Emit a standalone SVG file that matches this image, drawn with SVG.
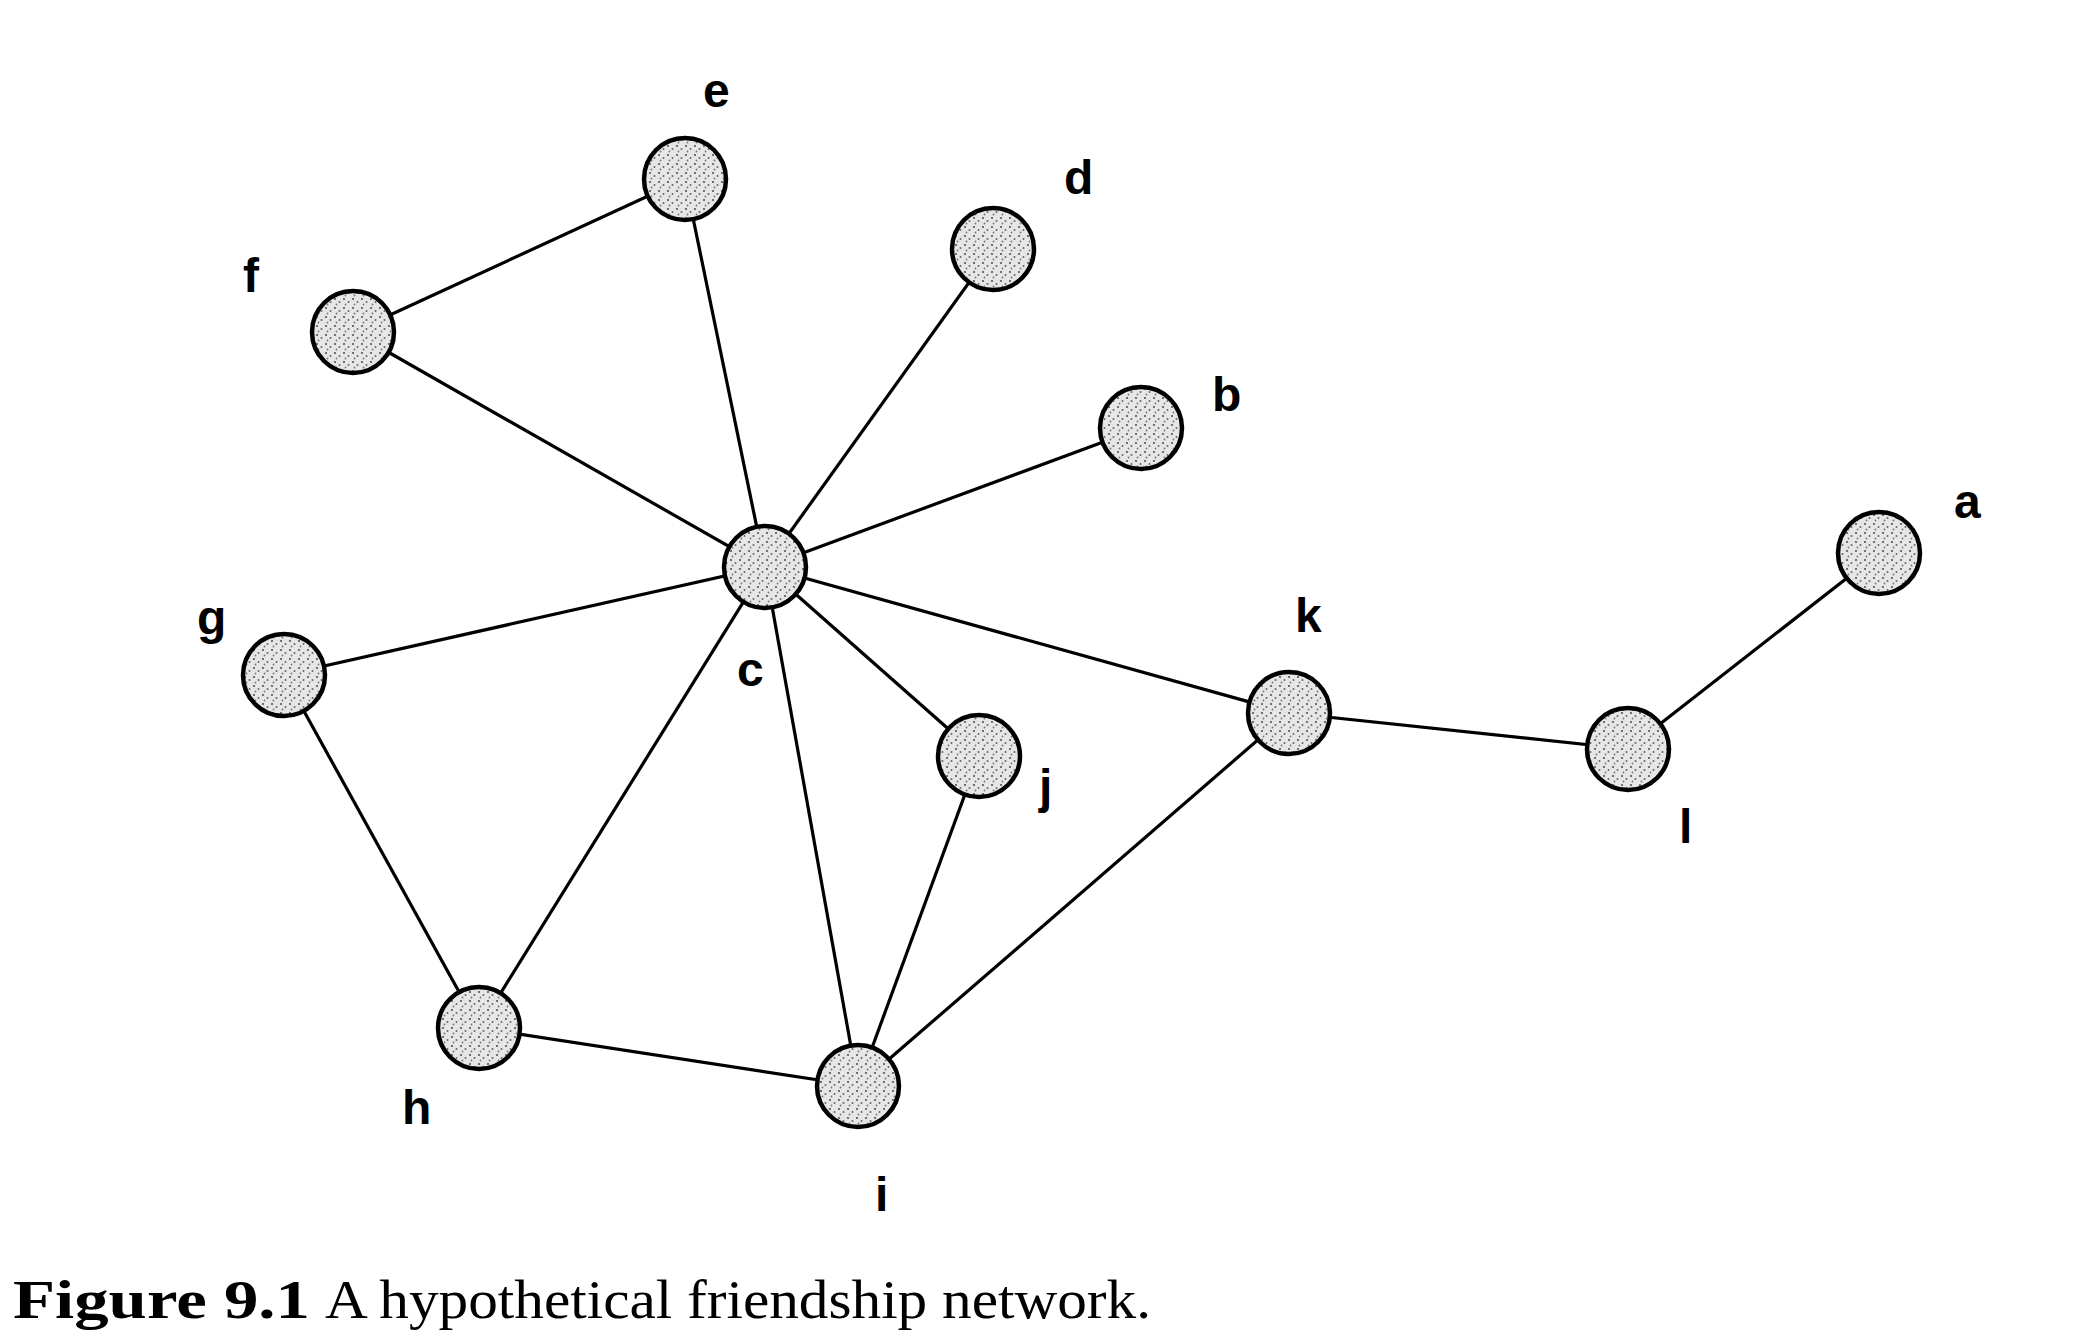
<svg xmlns="http://www.w3.org/2000/svg" width="2098" height="1344" viewBox="0 0 2098 1344">
<defs>
<pattern id="stip" width="9" height="9" patternUnits="userSpaceOnUse">
<rect width="9" height="9" fill="#e6e6e6"/>
<circle cx="2" cy="2" r="1.1" fill="#555"/>
<circle cx="6.5" cy="5" r="1" fill="#666"/>
<circle cx="3.5" cy="7.5" r="0.9" fill="#777"/>
</pattern>
</defs>
<style>
.node{fill:url(#stip);stroke:#000;stroke-width:4.5}
.edge{stroke:#000;stroke-width:3.2;fill:none}
.lbl{font-family:"Liberation Sans",Arial,sans-serif;font-weight:bold;font-size:48px;fill:#000}
.cap{font-family:"Liberation Serif","Times New Roman",serif;font-size:54px;fill:#000}
</style>
<rect width="2098" height="1344" fill="#fff"/>
<g id="connectors">
<line class="edge" x1="353" y1="332" x2="685" y2="179"/>
<line class="edge" x1="685" y1="179" x2="765" y2="567"/>
<line class="edge" x1="993" y1="249" x2="765" y2="567"/>
<line class="edge" x1="1141" y1="428" x2="765" y2="567"/>
<line class="edge" x1="353" y1="332" x2="765" y2="567"/>
<line class="edge" x1="284" y1="675" x2="765" y2="567"/>
<line class="edge" x1="765" y1="567" x2="479" y2="1028"/>
<line class="edge" x1="765" y1="567" x2="858" y2="1086"/>
<line class="edge" x1="765" y1="567" x2="979" y2="756"/>
<line class="edge" x1="765" y1="567" x2="1289" y2="713"/>
<line class="edge" x1="284" y1="675" x2="479" y2="1028"/>
<line class="edge" x1="479" y1="1028" x2="858" y2="1086"/>
<line class="edge" x1="979" y1="756" x2="858" y2="1086"/>
<line class="edge" x1="1289" y1="713" x2="858" y2="1086"/>
<line class="edge" x1="1289" y1="713" x2="1628" y2="749"/>
<line class="edge" x1="1628" y1="749" x2="1879" y2="553"/>
</g>
<g id="node-a"><circle class="node" cx="1879" cy="553" r="41"/><text class="lbl" x="1954" y="518">a</text></g>
<g id="node-b"><circle class="node" cx="1141" cy="428" r="41"/><text class="lbl" x="1212" y="411">b</text></g>
<g id="node-c"><circle class="node" cx="765" cy="567" r="41"/><text class="lbl" x="737" y="686">c</text></g>
<g id="node-d"><circle class="node" cx="993" cy="249" r="41"/><text class="lbl" x="1064" y="194">d</text></g>
<g id="node-e"><circle class="node" cx="685" cy="179" r="41"/><text class="lbl" x="703" y="107">e</text></g>
<g id="node-f"><circle class="node" cx="353" cy="332" r="41"/><text class="lbl" x="243" y="292">f</text></g>
<g id="node-g"><circle class="node" cx="284" cy="675" r="41"/><text class="lbl" x="197" y="634">g</text></g>
<g id="node-h"><circle class="node" cx="479" cy="1028" r="41"/><text class="lbl" x="402" y="1124">h</text></g>
<g id="node-i"><circle class="node" cx="858" cy="1086" r="41"/><text class="lbl" x="875" y="1211">i</text></g>
<g id="node-j"><circle class="node" cx="979" cy="756" r="41"/><text class="lbl" x="1039" y="803">j</text></g>
<g id="node-k"><circle class="node" cx="1289" cy="713" r="41"/><text class="lbl" x="1295" y="632">k</text></g>
<g id="node-l"><circle class="node" cx="1628" cy="749" r="41"/><text class="lbl" x="1679" y="843">l</text></g>
<g id="caption">
<text class="cap" x="13" y="1318" font-weight="bold" textLength="297" lengthAdjust="spacingAndGlyphs">Figure 9.1</text>
<text class="cap" x="325" y="1318" textLength="826" lengthAdjust="spacingAndGlyphs">A hypothetical friendship network.</text>
</g>
</svg>
